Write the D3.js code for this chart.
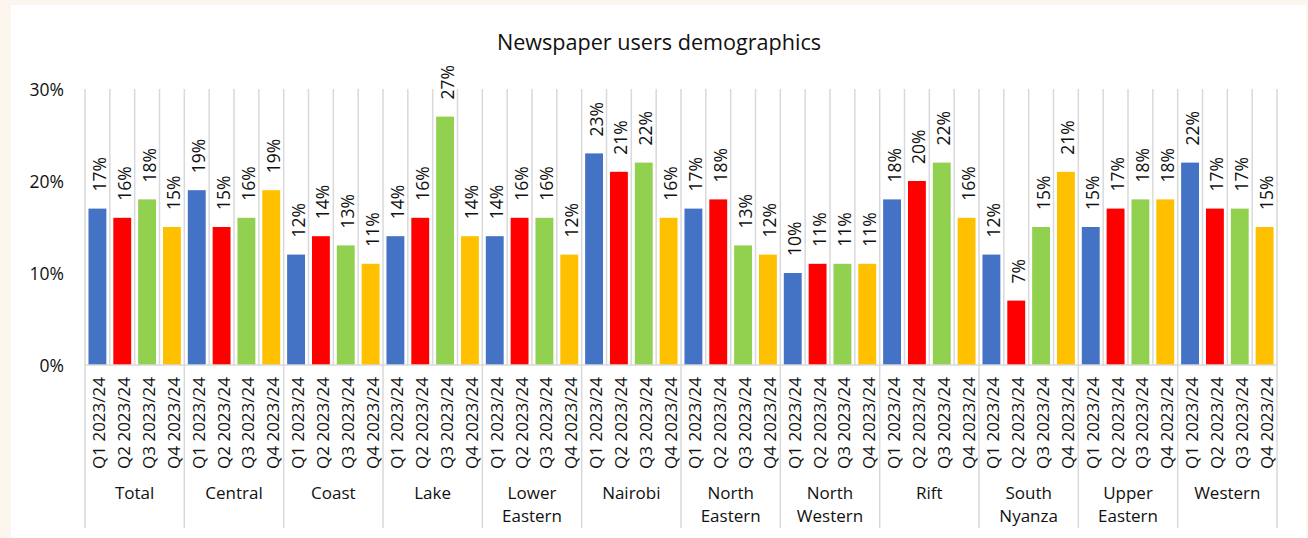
<!DOCTYPE html>
<html>
<head>
<meta charset="utf-8">
<script src="https://cdn.jsdelivr.net/npm/d3@7"></script>
<style>
  html, body { margin: 0; padding: 0; background: #fdf6ee; }
  svg { display: block; font-family: "Open Sans", "Noto Sans", sans-serif; }
</style>
</head>
<body>
<svg id="chart" width="1308" height="538"></svg>
<script>
// Regions (group labels, split over lines) and quarters (sub-categories)
const regions = [
  ["Total"], ["Central"], ["Coast"], ["Lake"], ["Lower", "Eastern"], ["Nairobi"],
  ["North", "Eastern"], ["North", "Western"], ["Rift"], ["South", "Nyanza"],
  ["Upper", "Eastern"], ["Western"]
];
const quarters = ["Q1 2023/24", "Q2 2023/24", "Q3 2023/24", "Q4 2023/24"];

// Share of newspaper users, percent, per region for each quarter
const q1 = [17, 19, 12, 14, 14, 23, 17, 10, 18, 12, 15, 22];
const q2 = [16, 15, 14, 16, 16, 21, 18, 11, 20, 7, 17, 17];
const q3 = [18, 16, 13, 27, 16, 22, 13, 11, 22, 15, 18, 17];
const q4 = [15, 19, 11, 14, 12, 16, 12, 11, 16, 21, 18, 15];

const yTicks = [0, 10, 20, 30];
const colors = ["#4472C4", "#FF0000", "#92D050", "#FFC000"];
const title = "Newspaper users demographics";

const series = [q1, q2, q3, q4];
const rows = [];
regions.forEach((r, gi) => {
  quarters.forEach((q, qi) => {
    rows.push({ key: gi + "|" + qi, group: gi, quarter: qi, label: q, value: series[qi][gi] });
  });
});

const svg = d3.select("#chart");
const W = 1308, H = 538;
const plotLeft = 85, plotRight = 1277, plotTop = 89, plotBottom = 365;

// white chart panel
svg.append("rect").attr("x", 11).attr("y", 5).attr("width", W - 13).attr("height", H - 5)
  .attr("fill", "#ffffff");

const x = d3.scaleBand().domain(rows.map(d => d.key)).range([plotLeft, plotRight])
  .paddingInner(0.28).paddingOuter(0.14);
const step = x.step();
const y = d3.scaleLinear().domain([0, 30]).range([plotBottom, plotTop]);

// title
svg.append("text").attr("x", 659).attr("y", 50).attr("text-anchor", "middle")
  .attr("font-size", 21.6).attr("fill", "#111").text(title);

// vertical separators between categories inside the plot
const bounds = d3.range(rows.length + 1).map(i => plotLeft + i * step);
svg.append("g").selectAll("line").data(bounds).join("line")
  .attr("x1", d => d).attr("x2", d => d)
  .attr("y1", plotTop).attr("y2", plotBottom)
  .attr("stroke", "#d9d9d9").attr("stroke-width", 1.5);

// group separators continuing through the label area
const groupBounds = d3.range(regions.length + 1).map(i => plotLeft + i * 4 * step);
svg.append("g").selectAll("line").data(groupBounds).join("line")
  .attr("x1", d => d).attr("x2", d => d)
  .attr("y1", plotBottom).attr("y2", 528)
  .attr("stroke", "#d9d9d9").attr("stroke-width", 1.5);

// y axis labels
const yAxis = d3.axisLeft(y).tickValues(yTicks).tickFormat(d => d + "%").tickSize(0).tickPadding(0);
const ya = svg.append("g").attr("transform", "translate(64,0)").call(yAxis);
ya.select(".domain").remove();
ya.selectAll("text").attr("font-size", 17.5).attr("fill", "#111")
  .attr("font-family", "'Open Sans', sans-serif").attr("dy", "0.35em");

// bars
svg.append("g").selectAll("rect").data(rows).join("rect")
  .attr("x", d => x(d.key)).attr("width", x.bandwidth())
  .attr("y", d => y(d.value)).attr("height", d => y(0) - y(d.value))
  .attr("fill", d => colors[d.quarter]);

// baseline
svg.append("line").attr("x1", plotLeft).attr("x2", plotRight).attr("y1", plotBottom).attr("y2", plotBottom)
  .attr("stroke", "#d9d9d9").attr("stroke-width", 1.5);

// value labels, rotated above bars
svg.append("g").selectAll("text").data(rows).join("text")
  .attr("transform", d => `translate(${x(d.key) + x.bandwidth() / 2 + 1.5},${y(d.value) - 17}) rotate(-90)`)
  .attr("text-anchor", "start").attr("dominant-baseline", "central")
  .attr("font-size", 17.5).attr("fill", "#111")
  .text(d => d.value + "%");

// quarter labels
svg.append("g").selectAll("text").data(rows).join("text")
  .attr("transform", d => `translate(${x(d.key) + x.bandwidth() / 2 + 1.5},423) rotate(-90)`)
  .attr("text-anchor", "middle").attr("dominant-baseline", "central")
  .attr("font-size", 17).attr("fill", "#111")
  .text(d => d.label);

// region labels
const gl = svg.append("g").selectAll("text").data(regions).join("text")
  .attr("text-anchor", "middle").attr("font-size", 17).attr("fill", "#111")
  .attr("x", (d, i) => plotLeft + (i * 4 + 2) * step)
  .attr("y", 499);
gl.selectAll("tspan").data(d => d).join("tspan")
  .attr("x", function () { return d3.select(this.parentNode).attr("x"); })
  .attr("dy", (d, i) => i === 0 ? 0 : 23)
  .text(d => d);
</script>
</body>
</html>
